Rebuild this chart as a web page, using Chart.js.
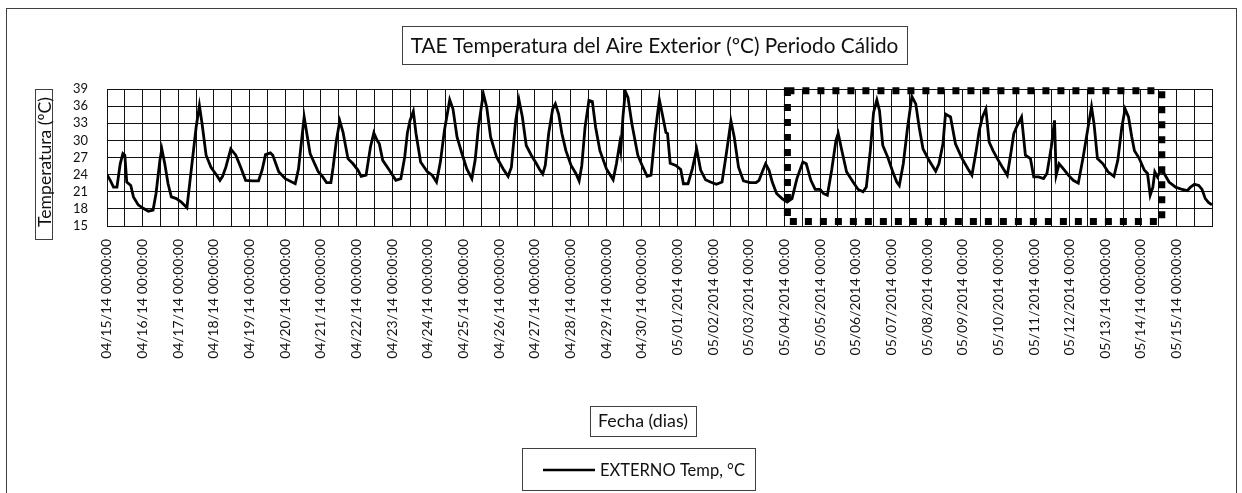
<!DOCTYPE html>
<html>
<head>
<meta charset="utf-8">
<script src="https://cdn.jsdelivr.net/npm/chart.js@4/dist/chart.umd.min.js"></script>
<style>
  body { margin: 0; background: #fff; }
  canvas { display: block; }
</style>
</head>
<body>
<canvas id="c" width="1242" height="493"></canvas>
<script>
// hours since 04/15/14 00:00 and outside air temperature (°C)
const hours = [
  0, 2.2, 4.4, 6.7, 8.9, 10.7, 12, 13.3, 16, 17.8,
  21, 24.4, 27.8, 31, 33, 35.6, 36.9, 38.9, 41.1, 43.3,
  46.7, 50, 53.8, 56.7, 60, 62.2, 64, 66.7, 70, 73.8,
  76, 77.8, 80, 83.3, 86.7, 90, 93.3, 97.8, 102, 104.4,
  106.7, 110, 111.6, 115.6, 120, 126.7, 128.9, 132.7, 136.7, 142.2,
  144.4, 147.8, 150.7, 152.2, 154.4, 156.7, 158.9, 162.2, 165.6, 168.9,
  171.1, 174.4, 177.3, 179.6, 181.8, 183.3, 185.6, 190, 194.4, 197.8,
  200.4, 202.2, 204, 206.2, 208, 211.1, 215.6, 218.9, 221.8, 224.4,
  227.1, 230.7, 232.9, 235.6, 238.9, 242.2, 245.6, 247.8, 250, 253.3,
  255.6, 258.2, 262.2, 266.7, 270, 272.2, 275.1, 277.3, 279.6, 282.2,
  285.6, 288.9, 291, 293.3, 295, 297.3, 300, 301.8, 304, 306.2,
  308.9, 312.4, 315.6, 317.8, 319.6, 321.8, 324.4, 326.7, 328.9, 331.8,
  336.2, 340.7, 342.9, 345.1, 345.8, 347.3, 348.9, 350.7, 353.3, 357.3,
  360.7, 363.6, 366.2, 368.9, 371.8, 374, 376.2, 377.3, 379.1, 382.9,
  386.2, 388, 391.1, 394, 396.9, 399.6, 402.9, 406.2, 410.2, 414,
  416.9, 420, 422.2, 425.1, 428.4, 432.9, 436.9, 438.9, 441.1, 443.3,
  445.6, 447.8, 450.7, 454.4, 457.8, 461.1, 464.4, 468.4, 470.7, 473.8,
  476.7, 480, 482.2, 484.9, 487.8, 490.7, 492.2, 494.4, 497.8, 502.2,
  505.6, 508.9, 511.1, 513.8, 516, 518.2, 520, 522.2, 525.6, 528.9,
  531.6, 533.3, 536, 538.9, 541.8, 544.4, 546.7, 549.3, 553.3, 557.8,
  560, 562.7, 564.4, 567.8, 571.1, 575.6, 579.6, 582.2, 584.9, 587.1,
  589.3, 591.6, 593.8, 596.4, 599.3, 602.7, 606, 608.2, 610.4, 612.7,
  615.6, 618.2, 621.6, 623.8, 627.1, 630.4, 632.7, 635.6, 637.8, 638.9,
  640.9, 643.8, 647.1, 650.4, 653.8, 657.1, 660, 662.7, 664.4, 666.7,
  670.4, 673.8, 677.8, 680.4, 683.1, 685.3, 687.6, 689.8, 691.6, 694.9,
  698.2, 700.4, 702.2, 704, 705.3, 707.1, 708.9, 711.6, 714.9, 719.3,
  723.8, 727.1, 729.3, 732, 734.9, 737.1, 739.3, 741.6, 743.8
];
const temps = [
  24.0, 23.0, 21.8, 21.8, 25.9, 27.7, 27.4, 22.7, 22.1, 20.1,
  18.7, 18.1, 17.6, 17.8, 20.7, 26.5, 28.5, 25.9, 22.4, 20.1,
  19.8, 19.2, 18.2, 24.8, 32.3, 36.1, 32.9, 27.4, 25.3, 23.9,
  23.0, 23.7, 25.3, 28.5, 27.4, 25.3, 23.0, 22.9, 22.9, 24.8,
  27.5, 27.8, 27.4, 24.5, 23.3, 22.4, 25.0, 34.1, 27.7, 24.5,
  23.9, 22.6, 22.6, 25.3, 30.0, 33.4, 31.4, 26.8, 25.9, 24.8,
  23.7, 23.9, 28.8, 31.3, 30.0, 29.4, 26.5, 24.8, 23.0, 23.3,
  27.1, 31.3, 33.5, 35.1, 31.2, 26.2, 24.5, 23.9, 22.7, 26.2,
  31.7, 37.1, 35.5, 30.6, 27.7, 25.0, 23.3, 26.5, 32.3, 38.2,
  35.8, 30.6, 27.1, 25.0, 23.7, 25.3, 33.5, 37.1, 34.1, 29.1,
  27.4, 26.0, 25.0, 24.1, 25.6, 31.2, 35.5, 36.4, 34.6, 31.2,
  28.2, 25.6, 24.2, 22.9, 25.6, 32.3, 37.0, 36.8, 32.3, 28.2,
  25.0, 23.1, 25.9, 29.4, 28.2, 34.1, 38.6, 37.5, 32.9, 27.4,
  25.3, 23.7, 23.9, 31.2, 37.1, 34.3, 31.4, 31.2, 26.0, 25.6,
  24.9, 22.4, 22.4, 25.0, 28.5, 24.8, 23.1, 22.7, 22.3, 22.7,
  27.7, 33.4, 30.6, 25.3, 22.9, 22.6, 22.6, 23.0, 24.5, 25.9,
  24.8, 22.7, 20.7, 19.8, 19.2, 19.8, 23.3, 26.2, 25.9, 23.0,
  21.4, 21.4, 20.7, 20.4, 24.8, 30.0, 31.2, 28.5, 24.5, 22.7,
  21.4, 21.0, 21.8, 28.2, 34.9, 37.1, 35.2, 29.1, 27.0, 24.5,
  22.7, 22.1, 25.9, 32.3, 37.7, 36.4, 32.3, 28.5, 26.5, 24.6,
  25.9, 29.4, 34.6, 34.1, 29.4, 26.8, 25.0, 23.9, 27.9, 31.7,
  34.1, 35.5, 29.7, 28.2, 26.8, 25.3, 23.9, 27.4, 31.2, 32.6,
  34.1, 27.4, 26.8, 23.6, 23.6, 23.3, 24.2, 28.8, 33.5, 23.9,
  25.9, 25.0, 23.9, 23.0, 22.5, 27.1, 31.7, 35.9, 32.9, 26.8,
  25.9, 24.5, 23.7, 26.5, 32.3, 35.5, 34.1, 30.6, 28.2, 26.8,
  24.8, 24.2, 20.4, 21.8, 24.5, 23.6, 24.6, 24.2, 22.7, 21.8,
  21.4, 21.2, 21.8, 22.3, 22.1, 21.4, 19.8, 19.1, 18.7
];
// one label per day, as written on the axis
const tickLabels = [
  '04/15/14 00:00:00', '04/16/14 00:00:00', '04/17/14 00:00:00', '04/18/14 00:00:00',
  '04/19/14 00:00:00', '04/20/14 00:00:00', '04/21/14 00:00:00', '04/22/14 00:00:00',
  '04/23/14 00:00:00', '04/24/14 00:00:00', '04/25/14 00:00:00', '04/26/14 00:00:00',
  '04/27/14 00:00:00', '04/28/14 00:00:00', '04/29/14 00:00:00', '04/30/14 00:00:00',
  '05/01/2014 00:00', '05/02/2014 00:00', '05/03/2014 00:00', '05/04/2014 00:00',
  '05/05/2014 00:00', '05/06/2014 00:00', '05/07/2014 00:00', '05/08/2014 00:00',
  '05/09/2014 00:00', '05/10/2014 00:00', '05/11/2014 00:00', '05/12/2014 00:00',
  '05/13/14 00:00:00', '05/14/14 00:00:00', '05/15/14 00:00:00'
];
const seriesName = 'EXTERNO Temp, °C';
const chartTitle = 'TAE Temperatura del Aire Exterior (ºC) Periodo Cálido';
const yTitle = 'Temperatura (ºC)';
const xTitle = 'Fecha (dias)';
// dotted frame (hours, °C)
const frameHours = [458, 710];
const frameTemps = [15.8, 38.7];

const FONT = 'Lato';
const ink = '#111';
const gridColor = '#111';

// pick a font size so a text gets the width it has in the picture
const probe = document.createElement('canvas').getContext('2d');
function fitSize(text, width) {
  probe.font = '100px ' + FONT;
  return 100 * width / probe.measureText(text).width;
}
const xTickSize = fitSize('04/15/14 00:00:00', 120);
const yTickSize = fitSize('39', 15);

function box(ctx, x, y, w, h) {
  ctx.strokeStyle = '#404040';
  ctx.lineWidth = 1;
  ctx.strokeRect(x + 0.5, y + 0.5, w, h);
}

const decor = {
  id: 'decor',
  afterDatasetsDraw(chart) {
    const ctx = chart.ctx;
    const x = chart.scales.x, y = chart.scales.y;
    const x1 = x.getPixelForValue(frameHours[0]), x2 = x.getPixelForValue(frameHours[1]);
    const y1 = y.getPixelForValue(frameTemps[1]), y2 = y.getPixelForValue(frameTemps[0]);
    ctx.save();
    ctx.setLineDash([7, 8]);
    ctx.lineWidth = 7;
    ctx.strokeStyle = '#000';
    ctx.strokeRect(x1, y1, x2 - x1, y2 - y1);
    ctx.restore();
  },
  afterDraw(chart) {
    const ctx = chart.ctx;
    ctx.save();
    // outer frame
    ctx.strokeStyle = '#404040';
    ctx.lineWidth = 1;
    ctx.strokeRect(6.5, 8.5, 1230, 500);

    ctx.fillStyle = ink;
    ctx.textBaseline = 'middle';
    ctx.textAlign = 'center';

    // title
    box(ctx, 402, 26, 505, 38);
    ctx.font = fitSize(chartTitle, 488) + 'px ' + FONT;
    ctx.fillText(chartTitle, 654.5, 46);

    // y title
    box(ctx, 35, 89, 17, 150);
    ctx.save();
    ctx.translate(44, 162);
    ctx.rotate(-Math.PI / 2);
    ctx.font = fitSize(yTitle, 130) + 'px ' + FONT;
    ctx.fillText(yTitle, 0, 1);
    ctx.restore();

    // x title
    box(ctx, 590, 406, 106, 30);
    ctx.font = fitSize(xTitle, 90) + 'px ' + FONT;
    ctx.fillText(xTitle, 643, 421.5);

    // legend
    box(ctx, 522, 448, 233, 42);
    ctx.strokeStyle = '#000';
    ctx.lineWidth = 2.5;
    ctx.beginPath();
    ctx.moveTo(543, 470);
    ctx.lineTo(595, 470);
    ctx.stroke();
    ctx.textAlign = 'left';
    ctx.font = fitSize(seriesName, 145) + 'px ' + FONT;
    ctx.fillText(seriesName, 600, 470.5);
    ctx.restore();
  }
};

new Chart(document.getElementById('c'), {
  type: 'line',
  data: {
    datasets: [{
      label: seriesName,
      data: hours.map((h, i) => ({ x: h, y: temps[i] })),
      borderColor: '#000',
      borderWidth: 2.8,
      pointRadius: 0,
      tension: 0,
      fill: false
    }]
  },
  options: {
    responsive: false,
    animation: false,
    devicePixelRatio: 1,
    layout: { padding: { top: 89, right: 20, left: 0, bottom: 0 } },
    plugins: {
      legend: { display: false },
      title: { display: false },
      tooltip: { enabled: false }
    },
    scales: {
      x: {
        type: 'linear',
        min: 0,
        max: 744,
        afterFit(s) { s.height = 267; },
        grid: { color: gridColor, lineWidth: 1, drawTicks: false },
        border: { color: gridColor, width: 1 },
        ticks: {
          stepSize: 12,
          maxTicksLimit: 100,
          autoSkip: false,
          minRotation: 90,
          maxRotation: 90,
          padding: 13,
          color: ink,
          font: { family: FONT, size: xTickSize },
          callback: v => (v % 24 === 0 ? (tickLabels[v / 24] || '') : '')
        }
      },
      y: {
        min: 15,
        max: 39,
        afterFit(s) { s.width = 107; },
        grid: { color: gridColor, lineWidth: 1, drawTicks: false },
        border: { color: gridColor, width: 1 },
        ticks: {
          stepSize: 3,
          autoSkip: false,
          maxTicksLimit: 100,
          padding: 19,
          color: ink,
          font: { family: FONT, size: yTickSize }
        }
      }
    }
  },
  plugins: [decor]
});
</script>
</body>
</html>
